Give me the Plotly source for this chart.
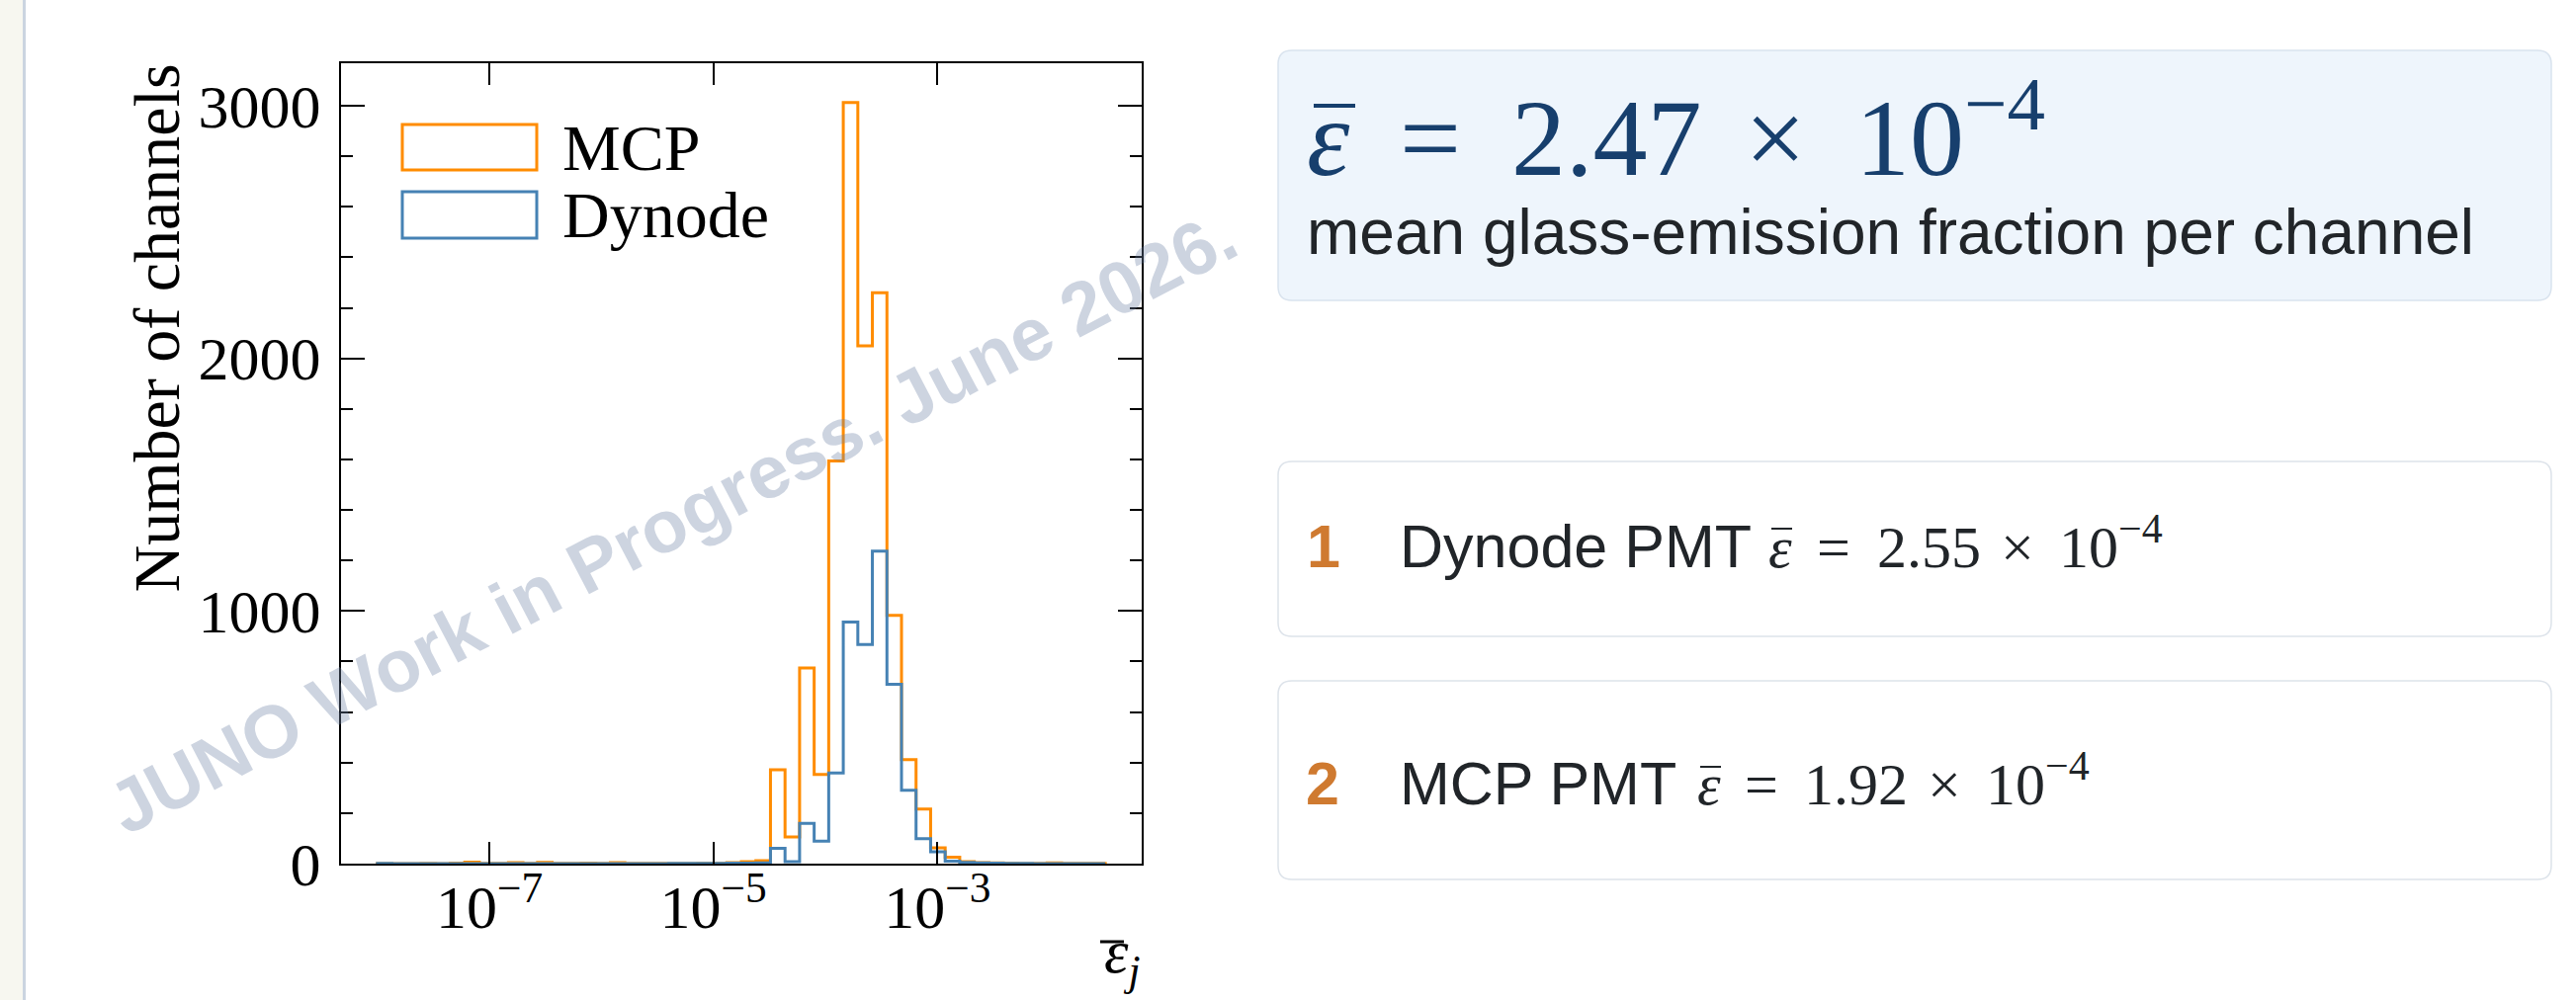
import numpy as np
import plotly.graph_objects as go

W, H = 2606, 1012


def X(px):
    return px / W


def Y(py):
    return 1 - py / H


# ---------------- data ----------------
BIN_LOG_MIN = -8.0
BIN_LOG_MAX = -1.5
N_BINS = 50

mcp_counts = [1, 0, 0, 1, 0, 2, 6, 1, 1, 4,
              1, 5, 1, 1, 2, 1, 4, 1, 1, 1,
              1, 1, 2, 2, 4, 8, 12, 372, 106, 774,
              353, 1594, 3013, 2049, 2260, 983, 412, 216, 63, 25,
              8, 4, 3, 2, 1, 1, 3, 1, 1, 1]
dynode_counts = [1, 0, 0, 0, 0, 0, 0, 0, 0, 0,
                 0, 0, 0, 0, 0, 0, 0, 0, 0, 0,
                 1, 1, 1, 1, 2, 2, 3, 61, 8, 159,
                 89, 359, 956, 867, 1237, 710, 290, 99, 47, 10,
                 5, 3, 2, 1, 1, 0, 0, 0, 0, 0]

series_names = ["MCP", "Dynode"]
series_colors = ["#ff8c00", "#4682b4"]

x_tickvals = [1e-7, 1e-5, 1e-3]
x_ticktext = ["10<sup>−7</sup>", "10<sup>−5</sup>", "10<sup>−3</sup>"]

mean_all = "2.47"
mean_dynode = "2.55"
mean_mcp = "1.92"

edges = np.logspace(BIN_LOG_MIN, BIN_LOG_MAX, N_BINS + 1)


def step(counts):
    xs = [edges[0]] + list(edges) + [edges[-1]]
    ys = [0] + list(counts) + [counts[-1], 0]
    return xs, ys


fig = go.Figure()
for name, counts, col in zip(series_names, [mcp_counts, dynode_counts], series_colors):
    xs, ys = step(counts)
    fig.add_trace(go.Scatter(x=xs, y=ys, mode="lines", name=name,
                             line=dict(color=col, width=3, shape="hv"),
                             showlegend=False, hoverinfo="skip"))

SERIF = "Liberation Serif"
SANS = "Liberation Sans"
DARK = "#212529"
NAVY = "#173f6d"
ORANGE_NUM = "#cf7a30"

annotations = []


def txt(s, x, baseline, size, family, color, anchor="left", desc=0.22):
    annotations.append(dict(
        text=s, x=X(x), y=Y(baseline + desc * size), xref="paper", yref="paper",
        xanchor=anchor, yanchor="bottom", showarrow=False, borderpad=0,
        font=dict(family=family, size=size, color=color)))


shapes = []


def bar(x0, x1, y, color, w):
    shapes.append(dict(type="line", xref="paper", yref="paper", x0=X(x0), x1=X(x1),
                       y0=Y(y), y1=Y(y), line=dict(color=color, width=w)))


def rrect(x0, y0, x1, y1, r, fill, line_col, lw=1.5):
    rx, ry = r / W, r / H
    a0, a1 = X(x0), X(x1)
    b0, b1 = Y(y1), Y(y0)
    path = (f"M {a0+rx},{b1} L {a1-rx},{b1} Q {a1},{b1} {a1},{b1-ry} "
            f"L {a1},{b0+ry} Q {a1},{b0} {a1-rx},{b0} L {a0+rx},{b0} "
            f"Q {a0},{b0} {a0},{b0+ry} L {a0},{b1-ry} Q {a0},{b1} {a0+rx},{b1} Z")
    shapes.append(dict(type="path", path=path, xref="paper", yref="paper",
                       fillcolor=fill, line=dict(color=line_col, width=lw), layer="below"))


# left strip
shapes.append(dict(type="rect", xref="paper", yref="paper", x0=0, x1=X(23), y0=0, y1=1,
                   fillcolor="#f7f7f0", line=dict(width=0), layer="below"))
shapes.append(dict(type="rect", xref="paper", yref="paper", x0=X(23), x1=X(26), y0=0, y1=1,
                   fillcolor="#cbd4e0", line=dict(width=0), layer="below"))

# legend patches
for (yt, yb), name, col, base in zip([(126, 172), (194, 241)], series_names, series_colors, [172, 240]):
    shapes.append(dict(type="rect", xref="paper", yref="paper", x0=X(407), x1=X(543),
                       y0=Y(yb), y1=Y(yt), line=dict(color=col, width=3), fillcolor="rgba(0,0,0,0)"))
    txt(name, 568, base, 66, SERIF, "black")

# axis labels
annotations.append(dict(text="Number of channels", x=X(158), y=Y(64), xref="paper", yref="paper",
                        xanchor="center", yanchor="top", textangle=-90, showarrow=False,
                        borderpad=0, font=dict(family=SERIF, size=66, color="black")))
txt("<i>ε</i><sub><i>j</i></sub>", 1155, 993, 62, SERIF, "black", anchor="right")
bar(1113, 1137, 953, "black", 3)

# watermark
annotations.append(dict(text="<b>JUNO Work in Progress. June 2026.</b>", x=X(680), y=Y(528),
                        xref="paper", yref="paper", xanchor="center", yanchor="middle",
                        textangle=-27.6, showarrow=False,
                        font=dict(family=SANS, size=75, color="rgba(112,132,166,0.35)")))

# cards
rrect(1293, 51, 2581, 304, 14, "#eef5fc", "#d9e3ee")
rrect(1293, 467, 2581, 644, 14, "#ffffff", "#dde3ea")
rrect(1293, 689, 2581, 890, 14, "#ffffff", "#dde3ea")

# card 1
txt("<i>ε</i>", 1321, 178, 110, SERIF, NAVY)
bar(1329, 1371, 107, NAVY, 4)
txt("=", 1447, 178, 110, SERIF, NAVY, anchor="center")
txt(mean_all, 1528, 178, 110, SERIF, NAVY)
txt("×", 1796, 178, 110, SERIF, NAVY, anchor="center")
txt("10<sup>−4</sup>", 1876, 178, 110, SERIF, NAVY)
txt("mean glass-emission fraction per channel", 1321, 258, 64, SANS, DARK)

# card 2
txt("<b>1</b>", 1321, 575, 61, SANS, ORANGE_NUM)
txt("Dynode PMT", 1415, 575, 61, SANS, DARK)
txt("<i>ε</i>", 1788, 575, 60, SERIF, DARK)
bar(1792, 1813, 535, DARK, 2)
txt("=", 1855, 575, 60, SERIF, DARK, anchor="center")
txt(mean_dynode, 1898, 575, 60, SERIF, DARK)
txt("×", 2041, 575, 60, SERIF, DARK, anchor="center")
txt("10<sup>−4</sup>", 2082, 575, 60, SERIF, DARK)

# card 3
txt("<b>2</b>", 1320, 815, 61, SANS, ORANGE_NUM)
txt("MCP PMT", 1415, 815, 61, SANS, DARK)
txt("<i>ε</i>", 1716, 815, 60, SERIF, DARK)
bar(1720, 1741, 776, DARK, 2)
txt("=", 1782, 815, 60, SERIF, DARK, anchor="center")
txt(mean_mcp, 1824, 815, 60, SERIF, DARK)
txt("×", 1967, 815, 60, SERIF, DARK, anchor="center")
txt("10<sup>−4</sup>", 2008, 815, 60, SERIF, DARK)

fig.update_layout(
    width=W, height=H, margin=dict(l=0, r=0, t=0, b=0, pad=0, autoexpand=False),
    paper_bgcolor="white", plot_bgcolor="white",
    xaxis=dict(type="log", range=[-8.325, -1.175], domain=[X(345), X(1155)],
               tickmode="array", tickvals=x_tickvals, ticktext=x_ticktext,
               ticks="inside", ticklen=22, tickwidth=2, tickcolor="black",
               showline=True, linecolor="black", linewidth=2, mirror="ticks",
               showgrid=False, zeroline=False, ticklabelstandoff=-11, automargin=False,
               tickfont=dict(family=SERIF, size=62, color="black")),
    yaxis=dict(range=[0, 3168], domain=[Y(874), Y(64)],
               tickmode="linear", tick0=0, dtick=1000,
               ticks="inside", ticklen=24, tickwidth=2, tickcolor="black",
               minor=dict(ticks="inside", tickmode="linear", tick0=0, dtick=200,
                          ticklen=12, tickwidth=2, tickcolor="black"),
               showline=True, linecolor="black", linewidth=2, mirror="ticks",
               showgrid=False, zeroline=False, ticklabelstandoff=6, automargin=False,
               tickfont=dict(family=SERIF, size=62, color="black")),
    shapes=shapes, annotations=annotations,
)

fig.write_html("out.html", config={"displayModeBar": False},
               post_script="document.body.style.margin='0';document.body.style.overflow='hidden';")
